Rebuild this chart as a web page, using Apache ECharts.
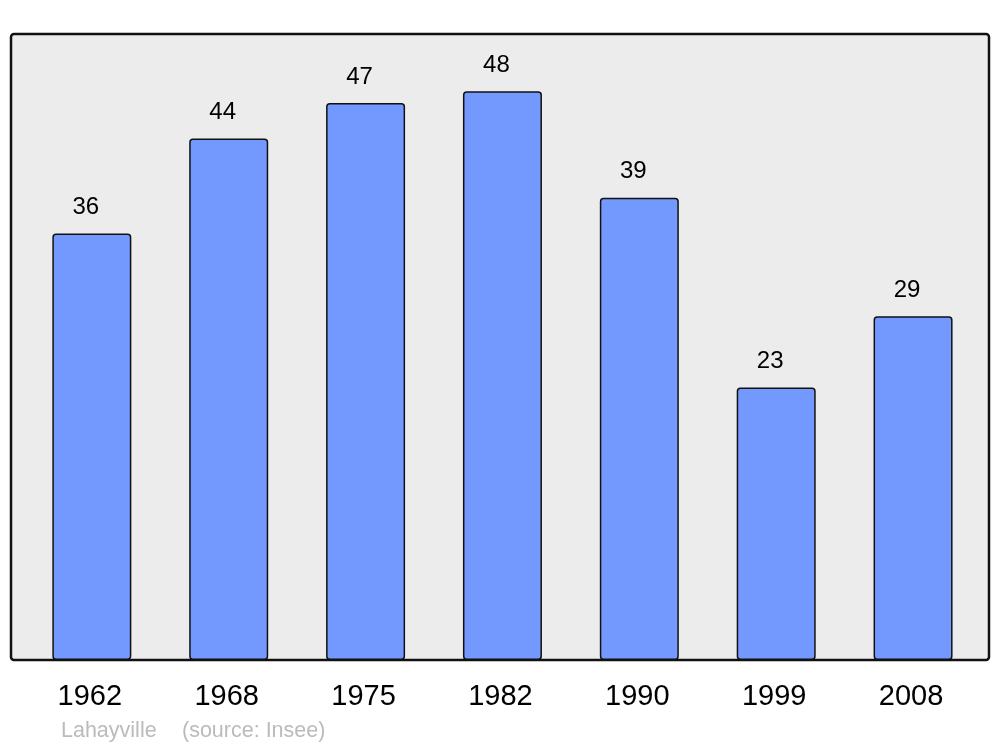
<!DOCTYPE html>
<html>
<head>
<meta charset="utf-8">
<script src="https://cdn.jsdelivr.net/npm/echarts@6/dist/echarts.min.js"></script>
<style>
html,body{margin:0;padding:0;background:#fff;}
#chart{width:1000px;height:747px;}
</style>
</head>
<body>
<div id="chart"></div>
<script>
const years = ['1962', '1968', '1975', '1982', '1990', '1999', '2008'];
const population = [36, 44, 47, 48, 39, 23, 29];
const footerName = 'Lahayville';
const footerSource = '(source: Insee)';

const chart = echarts.init(document.getElementById('chart'), null, {renderer: 'canvas'});
const FONT = '"Liberation Sans", Arial, sans-serif';
chart.setOption({
  animation: false,
  backgroundColor: '#ffffff',
  graphic: [
    {
      type: 'rect',
      z: -10,
      shape: {x: 11, y: 34, width: 978, height: 626, r: 3},
      style: {fill: '#ececec', stroke: '#111111', lineWidth: 2.5}
    },
    {
      type: 'text',
      left: 61,
      top: 720,
      style: {text: footerName, fill: '#bbbbbb', font: '21.5px ' + FONT}
    },
    {
      type: 'text',
      left: 182,
      top: 720,
      style: {text: footerSource, fill: '#bbbbbb', font: '21.5px ' + FONT}
    }
  ],
  grid: {left: 23.4, right: 18.5, top: 67.5, bottom: 87, containLabel: false},
  xAxis: {
    type: 'category',
    data: years,
    axisLine: {show: false},
    axisTick: {show: false},
    axisLabel: {color: '#000', fontSize: 29, fontFamily: FONT, margin: 22, padding: [0, 4, 0, 0]}
  },
  yAxis: {
    type: 'value',
    min: 0,
    max: 50,
    show: false,
    splitLine: {show: false}
  },
  series: [{
    type: 'bar',
    data: population,
    barWidth: 79,
    itemStyle: {color: '#7399ff', borderColor: '#111111', borderWidth: 1.5, borderRadius: 3},
    label: {
      show: true,
      position: 'top',
      distance: 14,
      offset: [-6, 0],
      color: '#000',
      fontSize: 24,
      fontFamily: FONT
    }
  }]
});
</script>
</body>
</html>
